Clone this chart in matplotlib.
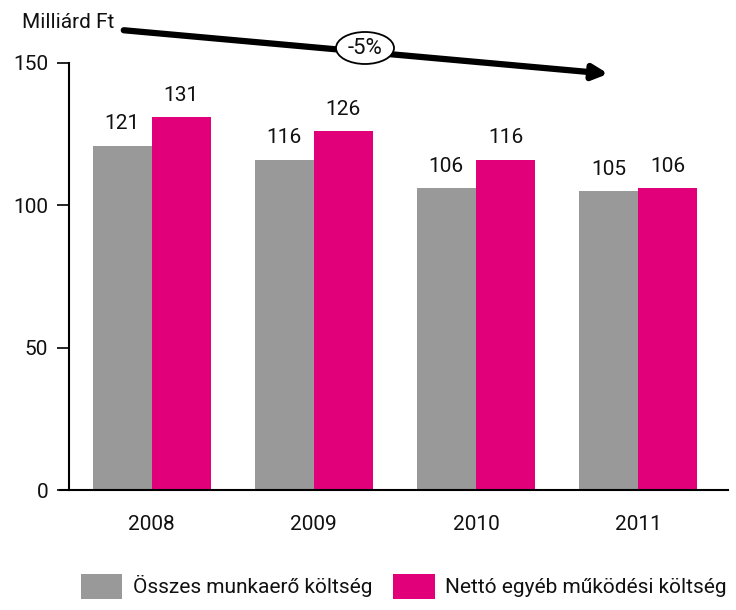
import matplotlib.pyplot as plt
from matplotlib.patches import Ellipse, FancyArrowPatch
import numpy as np

years = ['2008', '2009', '2010', '2011']
munkaero = [121, 116, 106, 105]
egyeb = [131, 126, 116, 106]
series_names = ['Összes munkaerő költség', 'Nettó egyéb működési költség']
gray = '#999999'
magenta = '#E2007A'

plt.rcParams['font.family'] = ['Roboto', 'DejaVu Sans']
plt.rcParams['font.size'] = 14
plt.rcParams['text.color'] = '#111111'

fig = plt.figure(figsize=(7.36, 6.10), dpi=100)
ax = fig.add_axes([69 / 736, 120 / 610, 659 / 736, 427 / 610])

x = np.arange(len(years))
w = 0.365
b1 = ax.bar(x - w / 2, munkaero, w, color=gray, label=series_names[0])
b2 = ax.bar(x + w / 2, egyeb, w, color=magenta, label=series_names[1])

for bars in (b1, b2):
    for bar in bars:
        ax.annotate(str(int(bar.get_height())),
                    (bar.get_x() + bar.get_width() / 2, bar.get_height()),
                    xytext=(0, 9), textcoords='offset points',
                    ha='center', va='bottom', fontsize=15)

ax.set_xlim(-0.51, 3.555)
ax.set_ylim(0, 150)
ax.set_yticks([0, 50, 100, 150])
ax.set_xticks(x)
ax.set_xticklabels(years)
ax.tick_params(axis='x', length=0, pad=18, labelsize=15, labelcolor='#111111')
ax.tick_params(axis='y', length=9, width=1.2, pad=6, labelsize=15, labelcolor='#111111')
ax.spines['top'].set_visible(False)
ax.spines['right'].set_visible(False)
ax.spines['left'].set_linewidth(1.5)
ax.spines['bottom'].set_linewidth(1.5)
ax.spines['bottom'].set_bounds(-0.565, 3.555)
ax.spines['bottom'].set_clip_on(False)

fig.text(22 / 736, 1 - 22 / 610, 'Milliárd Ft', fontsize=15, va='center', ha='left')

# trend arrow
fig.patches.append(FancyArrowPatch(
    (121 / 736, 1 - 30 / 610), (611 / 736, 1 - 74 / 610),
    transform=fig.transFigure, arrowstyle='-|>', mutation_scale=22,
    lw=4.5, color='black'))
fig.patches.append(Ellipse((365 / 736, 1 - 48 / 610), 58 / 736, 32 / 610,
                           transform=fig.transFigure, facecolor='white',
                           edgecolor='black', lw=1.3))
fig.text(365 / 736, 1 - 48 / 610, '-5%', fontsize=16, ha='center', va='center')

fig.legend(handles=[b1, b2], loc='lower left', bbox_to_anchor=(62 / 736, -0.012),
           ncol=2, frameon=False, handlelength=2.0, handleheight=1.45,
           handletextpad=0.5, columnspacing=1.0, fontsize=15)

fig.savefig('out.png', dpi=100)
